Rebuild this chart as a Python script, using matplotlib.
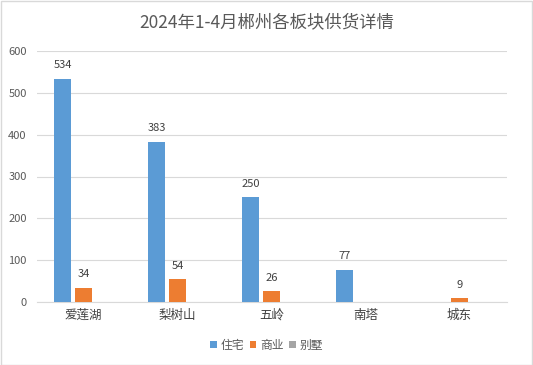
import matplotlib
matplotlib.use("Agg")
import matplotlib.pyplot as plt
import numpy as np
from matplotlib.patches import Rectangle, Patch

plt.rcParams['font.family'] = ['Noto Sans CJK SC', 'DejaVu Sans']

title = "2024年1-4月郴州各板块供货详情"
categories = ["爱莲湖", "梨树山", "五岭", "南塔", "城东"]
series_names = ["住宅", "商业", "别墅"]
residential = [534, 383, 250, 77, None]
commercial = [34, 54, 26, None, 9]
villa = [None, None, None, None, None]
colors = ["#5B9BD5", "#ED7D31", "#A5A5A5"]
yticks = [0, 100, 200, 300, 400, 500, 600]

W, H = 533, 365
fig = plt.figure(figsize=(W / 100, H / 100), dpi=100)
fig.patch.set_facecolor("white")
fig.add_artist(Rectangle((0.5 / W, 0.5 / H), 1 - 1.5 / W, 1 - 1.5 / H, transform=fig.transFigure,
                         fill=False, edgecolor="#D9D9D9", linewidth=1))

left, right = 36.5 / W, 506.5 / W
bottom, top = (H - 302) / H, (H - 51) / H
ax = fig.add_axes([left, bottom, right - left, top - bottom])

x = np.arange(len(categories))
bw = 0.18
step = 0.223
all_series = [residential, commercial, villa]
for i, (vals, col, name) in enumerate(zip(all_series, colors, series_names)):
    off = (i - 1) * step
    xs = [xi + off for xi, v in zip(x, vals) if v is not None]
    vs = [v for v in vals if v is not None]
    if vs:
        ax.bar(xs, vs, width=bw, color=col, zorder=3)
    for xi, v in zip(xs, vs):
        ax.annotate(str(v), (xi, v), xytext=(0, 6), textcoords="offset points",
                    ha="center", va="bottom", fontsize=8, color="#404040")

ax.set_xlim(-0.5, len(categories) - 0.5)
ax.set_ylim(0, 600)
ax.set_yticks(yticks)
ax.set_yticklabels([str(t) for t in yticks], fontsize=8, color="#595959")
ax.set_xticks(x)
ax.set_xticklabels(categories, fontsize=9, color="#404040")
ax.tick_params(axis="both", length=0)
ax.tick_params(axis="y", pad=7)
ax.tick_params(axis="x", pad=5)
ax.yaxis.grid(True, color="#D9D9D9", linewidth=0.8, zorder=0)
for s in ["top", "right", "left"]:
    ax.spines[s].set_visible(False)
ax.spines["bottom"].set_color("#D9D9D9")
ax.spines["bottom"].set_linewidth(0.8)

fig.text(0.5, 1 - 22 / H, title, ha="center", va="center", fontsize=12.5, color="#595959")

handles = [Patch(facecolor=c, edgecolor="none") for c in colors]
fig.legend(handles, series_names, loc="center", bbox_to_anchor=(0.5, 1 - 345 / H), ncol=3,
           frameon=False, fontsize=8.5, handlelength=0.55, handleheight=0.55,
           handletextpad=0.3, columnspacing=0.5, labelcolor="#595959")

fig.savefig("out.png", dpi=100, facecolor="white")
